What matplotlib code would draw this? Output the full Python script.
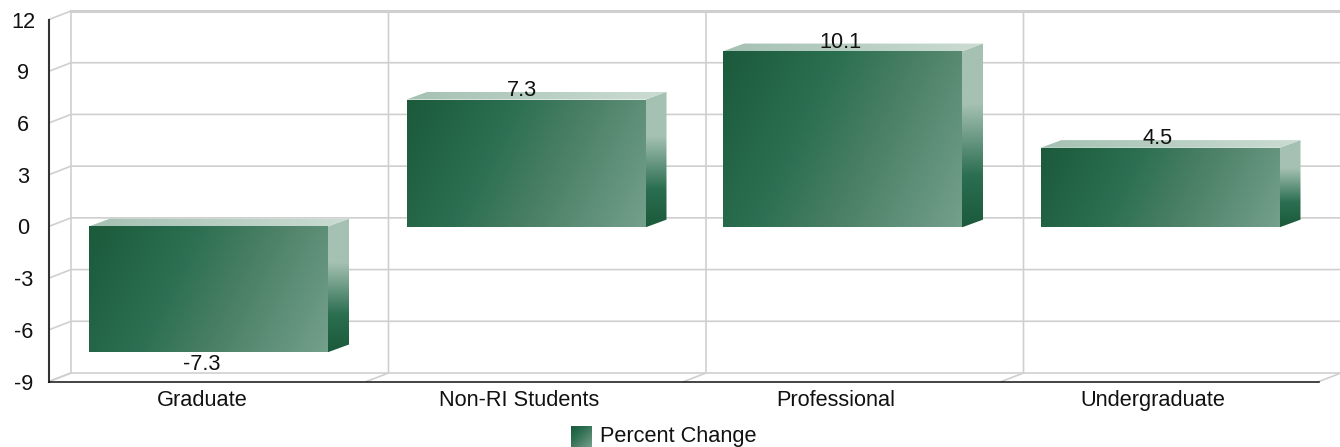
import matplotlib

matplotlib.use("Agg")
import matplotlib.pyplot as plt
import numpy as np
from matplotlib.colors import LinearSegmentedColormap
from matplotlib.patches import Polygon

plt.rcParams["font.family"] = ["Liberation Sans", "DejaVu Sans"]

categories = ["Graduate", "Non-RI Students", "Professional", "Undergraduate"]
percent_change = [-7.3, 7.3, 10.1, 4.5]
y_ticks = [-9, -6, -3, 0, 3, 6, 9, 12]
series_name = "Percent Change"

W, H = 1340, 447
LEFT, RIGHT, TOP, BOTTOM = 49, 1319, 19.5, 381.5  # front plane, in pixels
GRID = "#cfcfcf"
FONT = 15.7

front_cmap = LinearSegmentedColormap.from_list(
    "front", [(0, "#1b5a3b"), (0.35, "#2b6e50"), (0.65, "#4f8369"), (1, "#74a08c")])
side_cmap = LinearSegmentedColormap.from_list(
    "side", [(0, "#a5c1b3"), (0.33, "#a5c1b3"), (0.72, "#2b6e50"), (1, "#1b5a3b")])
top_cmap = LinearSegmentedColormap.from_list("top", ["#a5c1b3", "#cbdcd3"])

fig = plt.figure(figsize=(W / 100, H / 100), dpi=100, facecolor="white")
ax = fig.add_axes([LEFT / W, 1 - BOTTOM / H, (RIGHT - LEFT) / W, (BOTTOM - TOP) / H])
ax.set_xlim(0, len(categories))
ax.set_ylim(y_ticks[0], y_ticks[-1])
ax.patch.set_visible(False)

# pixel sizes expressed in data units, the depth offset of the 3d look
px_x = len(categories) / (RIGHT - LEFT)
px_y = (y_ticks[-1] - y_ticks[0]) / (BOTTOM - TOP)
depth_x, depth_y = 22 * px_x, 8.5 * px_y
bar_depth_x, bar_depth_y = 21 * px_x, 7.7 * px_y
bar_width = 239 * px_x


def shaded_face(corners, cmap, kind, zorder):
    """Fill a polygon with a gradient image clipped to its outline."""
    corners = np.asarray(corners)
    x0, x1 = corners[:, 0].min(), corners[:, 0].max()
    y0, y1 = corners[:, 1].min(), corners[:, 1].max()
    u, v = np.meshgrid(np.linspace(0, 1, 256), np.linspace(0, 1, 256))
    if kind == "front":
        w, h = (x1 - x0) / px_x, (y1 - y0) / px_y
        t = (u * w + 0.5 * v * h) / (w + 0.5 * h)
    elif kind == "side":
        t = v
    else:
        t = u
    im = ax.imshow(t, cmap=cmap, vmin=0, vmax=1, extent=(x0, x1, y0, y1),
                   aspect="auto", interpolation="bilinear", zorder=zorder)
    im.set_clip_path(Polygon(corners, closed=True, transform=ax.transData))


# walls and floor
n = len(categories)
for tick in y_ticks:
    ax.plot([0, depth_x, n + depth_x], [tick, tick + depth_y, tick + depth_y],
            color=GRID, lw=1.2, clip_on=False, zorder=1, solid_joinstyle="miter")
for i in range(n + 1):
    ax.plot([i, i + depth_x, i + depth_x],
            [y_ticks[0], y_ticks[0] + depth_y, y_ticks[-1] + depth_y],
            color=GRID, lw=1.2, clip_on=False, zorder=1, solid_joinstyle="miter")
ax.plot([depth_x, n + depth_x], [y_ticks[-1] + depth_y] * 2, color=GRID, lw=2.2,
        clip_on=False, zorder=1)

# bars, positive ones sit about a pixel proud of the scale in the original
bar_nudge = [0.75, 0.75, -0.25, -0.25]
label_nudge = [-6, -3, -2.5, -2.5]
for i, (name, value) in enumerate(zip(categories, percent_change)):
    xl = i + 0.5 + bar_nudge[i] * px_x - bar_width / 2
    xr = xl + bar_width
    low, high = min(value, 0), max(value, 0)
    if value > 0:
        low -= 1 * px_y
        high += 1 * px_y
    z = 3 + i
    shaded_face([(xr, low), (xr + bar_depth_x, low + bar_depth_y),
                 (xr + bar_depth_x, high + bar_depth_y), (xr, high)], side_cmap, "side", z)
    shaded_face([(xl, high), (xr, high), (xr + bar_depth_x, high + bar_depth_y),
                 (xl + bar_depth_x, high + bar_depth_y)], top_cmap, "top", z)
    shaded_face([(xl, low), (xr, low), (xr, high), (xl, high)], front_cmap, "front", z)
    ax.annotate(f"{value:g}", (i + 0.5, value),
                xytext=(label_nudge[i], 10 if value > 0 else -12),
                textcoords="offset pixels", ha="center", va="center",
                fontsize=FONT, color="#111111", zorder=10)

# axes
for side in ("top", "right"):
    ax.spines[side].set_visible(False)
ax.spines["left"].set_color("#333333")
ax.spines["left"].set_linewidth(1.5)
ax.spines["bottom"].set_color("#111111")
ax.spines["bottom"].set_linewidth(1.1)
ax.spines["left"].set_zorder(2)
ax.spines["bottom"].set_zorder(2)
ax.set_yticks(y_ticks)
ax.set_yticklabels([str(t) for t in y_ticks], fontsize=FONT, color="#111111", ha="center")
ax.tick_params(axis="y", length=0, pad=18.5)
ax.set_xticks([(153.5 + 316.8 * i) * px_x for i in range(n)])
ax.set_xticklabels(categories, fontsize=FONT, color="#111111")
ax.tick_params(axis="x", length=0, pad=6)

# legend swatch and its text
swatch = fig.add_axes([571 / W, 0, 21 / W, 21 / H])
u, v = np.meshgrid(np.linspace(0, 1, 64), np.linspace(0, 1, 64))
swatch.imshow((u + v) / 2, cmap=front_cmap, vmin=0, vmax=1, aspect="auto")
swatch.axis("off")
fig.text(600 / W, 1 - 436.5 / H, series_name, fontsize=FONT, color="#111111",
         ha="left", va="center")

fig.savefig("out.png", dpi=100)
